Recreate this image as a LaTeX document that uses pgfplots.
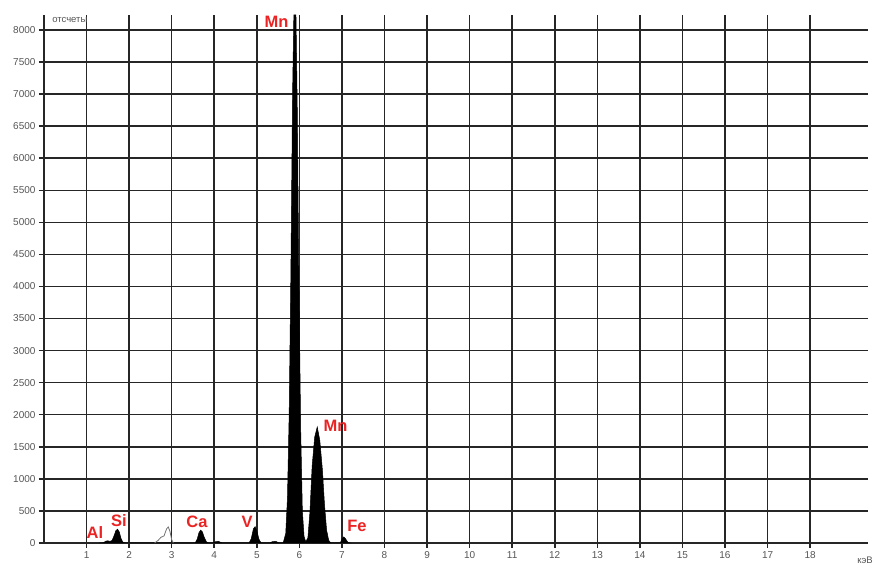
\documentclass[border=0pt]{standalone}
\usepackage{pgfplots}
\pgfplotsset{compat=1.18}
\usepackage{fontspec}
\setmainfont{Liberation Sans}
\definecolor{lbl}{RGB}{235,35,35}
\definecolor{tk}{RGB}{85,85,85}
\begin{document}
\begin{tikzpicture}
\begin{axis}[
  scale only axis, width=824pt, height=528pt,
  xmin=0, xmax=19.36, ymin=0, ymax=8234,
  axis lines=left,
  axis line style={-, line width=1.6pt, black!85},
  xtick={1,...,18}, ytick={0,500,...,8000},
  grid=major, major grid style={line width=1.5pt, black!85},
  tick align=outside, major tick length=5pt,
  tick style={line width=1.5pt, black!85},
  tick label style={font=\fontsize{10}{11}\selectfont, text=tk},
  /pgf/number format/assume math mode=true,
  /pgf/number format/1000 sep={},
  clip=false,
]
\addplot[fill=black, draw=black, line width=0.5pt] coordinates {
(1.30,0)(1.40,5)(1.45,28)(1.50,35)(1.55,25)(1.60,40)(1.65,120)(1.69,195)(1.73,215)(1.77,170)(1.81,70)(1.85,15)(1.90,0)
(3.55,0)(3.60,60)(3.64,160)(3.68,200)(3.72,175)(3.77,80)(3.82,15)(3.87,0)
(3.97,0)(4.03,20)(4.10,25)(4.17,5)(4.22,0)
(4.82,0)(4.87,70)(4.92,220)(4.96,255)(5.00,190)(5.05,60)(5.10,0)
(5.30,0)(5.37,22)(5.45,25)(5.52,0)
(5.62,0)(5.68,150)(5.72,700)(5.76,2000)(5.80,4200)(5.84,7000)(5.87,8234)(5.92,8234)(5.95,6800)(5.99,4000)(6.03,1800)(6.07,500)(6.11,100)(6.15,20)(6.20,80)(6.25,500)(6.30,1200)(6.36,1650)(6.42,1810)(6.48,1600)(6.54,1150)(6.59,600)(6.64,200)(6.69,40)(6.74,0)
(6.96,0)(7.00,60)(7.04,95)(7.08,70)(7.14,10)(7.20,0)
} \closedcycle;
\addplot[draw=black!55, line width=0.8pt] coordinates {
(2.60,0)(2.68,40)(2.75,90)(2.82,110)(2.88,220)(2.92,250)(2.96,180)(3.00,50)(3.04,0)
};
\begin{scope}[every node/.style={text=lbl, font=\fontsize{16.5}{17}\selectfont\bfseries, inner sep=0pt}]
\node at (axis cs:1.198,156) {Al};
\node at (axis cs:1.762,351) {Si};
\node at (axis cs:3.595,328) {Ca};
\node at (axis cs:4.770,328) {V};
\node at (axis cs:5.463,8134) {Mn};
\node at (axis cs:6.849,1822) {Mn};
\node at (axis cs:7.354,265) {Fe};
\end{scope}
\node[anchor=west, inner sep=0pt, text=tk, font=\fontsize{9.5}{9.5}\selectfont] at (axis cs:0.19,8158) {отсчеты};
\node[inner sep=0pt, text=tk, font=\fontsize{9.5}{9.5}\selectfont] at (axis cs:19.29,-265) {кэВ};
\end{axis}
\path (current axis.south west) ++(-44pt,-21pt) rectangle ++(875pt,564pt);
\end{tikzpicture}
\end{document}
